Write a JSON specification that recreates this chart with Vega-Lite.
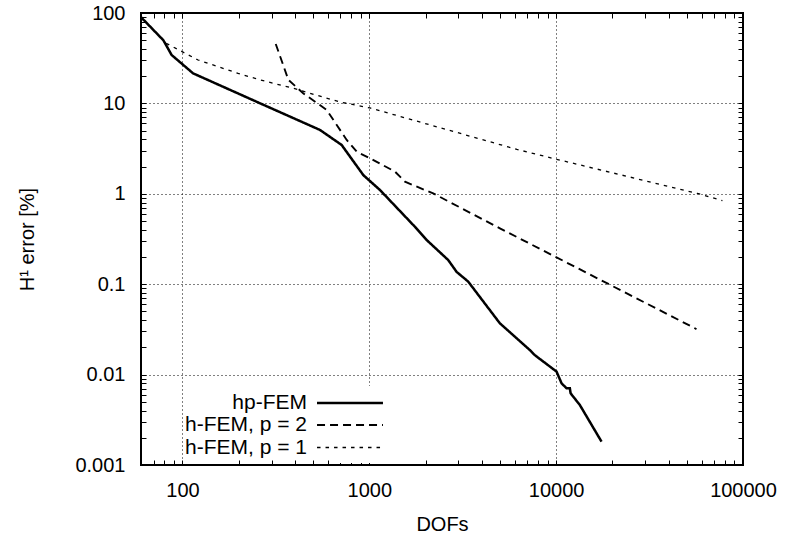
{
  "$schema": "https://vega.github.io/schema/vega-lite/v6.json",
  "width": 602,
  "height": 452,
  "autosize": "none",
  "padding": {"left": 141, "top": 13, "right": 42, "bottom": 70},
  "background": "white",
  "config": {
    "view": {"stroke": "black", "strokeWidth": 2},
    "font": "Liberation Sans",
    "axis": {
      "domain": false,
      "labelFont": "Liberation Sans",
      "labelFontSize": 20,
      "labelColor": "black",
      "labelOverlap": false,
      "labelFlush": false,
      "titleFont": "Liberation Sans",
      "titleFontSize": 20,
      "titleFontWeight": "normal",
      "titleColor": "black",
      "gridColor": "black",
      "gridDash": [1, 3],
      "gridWidth": 1
    }
  },
  "data": {
    "values": [
      {"series": "hp-FEM", "dofs": 60, "err": 90},
      {"series": "hp-FEM", "dofs": 79, "err": 50},
      {"series": "hp-FEM", "dofs": 87.5, "err": 34.3},
      {"series": "hp-FEM", "dofs": 114, "err": 21.5},
      {"series": "hp-FEM", "dofs": 261, "err": 10.0},
      {"series": "hp-FEM", "dofs": 377, "err": 7.13},
      {"series": "hp-FEM", "dofs": 545, "err": 5.08},
      {"series": "hp-FEM", "dofs": 711, "err": 3.47},
      {"series": "hp-FEM", "dofs": 929, "err": 1.61},
      {"series": "hp-FEM", "dofs": 1141, "err": 1.10},
      {"series": "hp-FEM", "dofs": 1754, "err": 0.432},
      {"series": "hp-FEM", "dofs": 2028, "err": 0.308},
      {"series": "hp-FEM", "dofs": 2645, "err": 0.185},
      {"series": "hp-FEM", "dofs": 2931, "err": 0.137},
      {"series": "hp-FEM", "dofs": 3381, "err": 0.107},
      {"series": "hp-FEM", "dofs": 5000, "err": 0.0369},
      {"series": "hp-FEM", "dofs": 7230, "err": 0.0187},
      {"series": "hp-FEM", "dofs": 7691, "err": 0.0164},
      {"series": "hp-FEM", "dofs": 10046, "err": 0.0108},
      {"series": "hp-FEM", "dofs": 10690, "err": 0.00801},
      {"series": "hp-FEM", "dofs": 11370, "err": 0.00705},
      {"series": "hp-FEM", "dofs": 11840, "err": 0.00705},
      {"series": "hp-FEM", "dofs": 11950, "err": 0.00621},
      {"series": "hp-FEM", "dofs": 13390, "err": 0.00461},
      {"series": "hp-FEM", "dofs": 17500, "err": 0.00181},
      {"series": "h-FEM, p = 2", "dofs": 315.7, "err": 45.4},
      {"series": "h-FEM, p = 2", "dofs": 369, "err": 18.2},
      {"series": "h-FEM, p = 2", "dofs": 444, "err": 12.9},
      {"series": "h-FEM, p = 2", "dofs": 592, "err": 8.45},
      {"series": "h-FEM, p = 2", "dofs": 757, "err": 3.94},
      {"series": "h-FEM, p = 2", "dofs": 857, "err": 2.92},
      {"series": "h-FEM, p = 2", "dofs": 1009, "err": 2.47},
      {"series": "h-FEM, p = 2", "dofs": 1372, "err": 1.76},
      {"series": "h-FEM, p = 2", "dofs": 1552, "err": 1.36},
      {"series": "h-FEM, p = 2", "dofs": 2197, "err": 1.01},
      {"series": "h-FEM, p = 2", "dofs": 5000, "err": 0.415},
      {"series": "h-FEM, p = 2", "dofs": 10046, "err": 0.198},
      {"series": "h-FEM, p = 2", "dofs": 56360, "err": 0.0319},
      {"series": "h-FEM, p = 1", "dofs": 81.8, "err": 46.2},
      {"series": "h-FEM, p = 1", "dofs": 121.3, "err": 30.2},
      {"series": "h-FEM, p = 1", "dofs": 198.6, "err": 21.5},
      {"series": "h-FEM, p = 1", "dofs": 260.6, "err": 18.2},
      {"series": "h-FEM, p = 1", "dofs": 391, "err": 14.7},
      {"series": "h-FEM, p = 1", "dofs": 697, "err": 10.36},
      {"series": "h-FEM, p = 1", "dofs": 1009, "err": 8.9},
      {"series": "h-FEM, p = 1", "dofs": 6166, "err": 3.1},
      {"series": "h-FEM, p = 1", "dofs": 10046, "err": 2.41},
      {"series": "h-FEM, p = 1", "dofs": 57000, "err": 1.01},
      {"series": "h-FEM, p = 1", "dofs": 77600, "err": 0.84}
    ]
  },
  "layer": [
    {
      "mark": {"type": "line", "color": "black", "clip": true},
      "encoding": {
        "x": {
          "field": "dofs", "type": "quantitative",
          "scale": {"type": "log", "domain": [60, 100000], "nice": false},
          "axis": {
            "orient": "bottom",
            "title": "DOFs",
            "titlePadding": 14,
            "values": [60,70,80,90,100,200,300,400,500,600,700,800,900,1000,2000,3000,4000,5000,6000,7000,8000,9000,10000,20000,30000,40000,50000,60000,70000,80000,90000,100000],
            "labelExpr": "abs(log(datum.value)/LN10 - round(log(datum.value)/LN10)) < 1e-6 ? toString(datum.value) : ''",
            "labelPadding": 20,
            "labelFlush": false,
            "tickSize": -5,
            "tickWidth": 1,
            "tickOpacity": 1,
            "tickColor": "black",
            "grid": true,
            "gridOpacity": {"condition": {"test": "abs(log(datum.value)/LN10 - round(log(datum.value)/LN10)) < 1e-6", "value": 1}, "value": 0}
          }
        },
        "y": {
          "field": "err", "type": "quantitative",
          "scale": {"type": "log", "domain": [0.001, 100], "nice": false},
          "axis": {
            "orient": "left",
            "title": "H¹ error [%]",
            "titlePadding": 37,
            "values": [0.001,0.002,0.003,0.004,0.005,0.006,0.007,0.008,0.009,0.01,0.02,0.03,0.04,0.05,0.06,0.07,0.08,0.09,0.1,0.2,0.3,0.4,0.5,0.6,0.7,0.8,0.9,1,2,3,4,5,6,7,8,9,10,20,30,40,50,60,70,80,90,100],
            "labelExpr": "abs(log(datum.value)/LN10 - round(log(datum.value)/LN10)) < 1e-6 ? toString(datum.value) : ''",
            "labelPadding": 21,
            "labelFlush": false,
            "tickSize": -5,
            "tickWidth": 1,
            "tickOpacity": 1,
            "tickColor": "black",
            "grid": true,
            "gridOpacity": {"condition": {"test": "abs(log(datum.value)/LN10 - round(log(datum.value)/LN10)) < 1e-6", "value": 1}, "value": 0}
          }
        },
        "strokeDash": {
          "field": "series", "type": "nominal",
          "scale": {"domain": ["hp-FEM", "h-FEM, p = 2", "h-FEM, p = 1"], "range": [[1, 0], [8, 5], [3.5, 5]]},
          "legend": {
            "orient": "none",
            "legendX": 192,
            "legendY": 373,
            "title": null,
            "labelAlign": "right",
            "labelOffset": -55,
            "labelFont": "Liberation Sans",
            "labelFontSize": 21,
            "labelColor": "black",
            "labelLimit": 300,
            "symbolType": "M-3.14,0H3.14",
            "symbolSize": 441,
            "symbolStrokeColor": "black",
            "rowPadding": 0.5,
            "fillColor": "white",
            "padding": 5
          }
        },
        "strokeWidth": {
          "field": "series", "type": "nominal",
          "scale": {"domain": ["hp-FEM", "h-FEM, p = 2", "h-FEM, p = 1"], "range": [2.5, 1.3, 1.3]},
          "legend": null
        },
        "detail": {"field": "series"}
      }
    },
    {
      "mark": {"type": "point", "opacity": 0},
      "encoding": {
        "x": {
          "field": "dofs", "type": "quantitative",
          "scale": {"type": "log", "domain": [60, 100000], "nice": false},
          "axis": {
            "orient": "top", "title": null, "labels": false, "grid": false,
            "tickSize": -5, "tickWidth": 1, "tickOpacity": 1, "tickColor": "black",
            "values": [60,70,80,90,100,200,300,400,500,600,700,800,900,1000,2000,3000,4000,5000,6000,7000,8000,9000,10000,20000,30000,40000,50000,60000,70000,80000,90000,100000]
          }
        },
        "y": {
          "field": "err", "type": "quantitative",
          "scale": {"type": "log", "domain": [0.001, 100], "nice": false},
          "axis": {
            "orient": "right", "title": null, "labels": false, "grid": false,
            "tickSize": -5, "tickWidth": 1, "tickOpacity": 1, "tickColor": "black",
            "values": [0.001,0.002,0.003,0.004,0.005,0.006,0.007,0.008,0.009,0.01,0.02,0.03,0.04,0.05,0.06,0.07,0.08,0.09,0.1,0.2,0.3,0.4,0.5,0.6,0.7,0.8,0.9,1,2,3,4,5,6,7,8,9,10,20,30,40,50,60,70,80,90,100]
          }
        }
      }
    }
  ],
  "resolve": {"axis": {"x": "independent", "y": "independent"}}
}
